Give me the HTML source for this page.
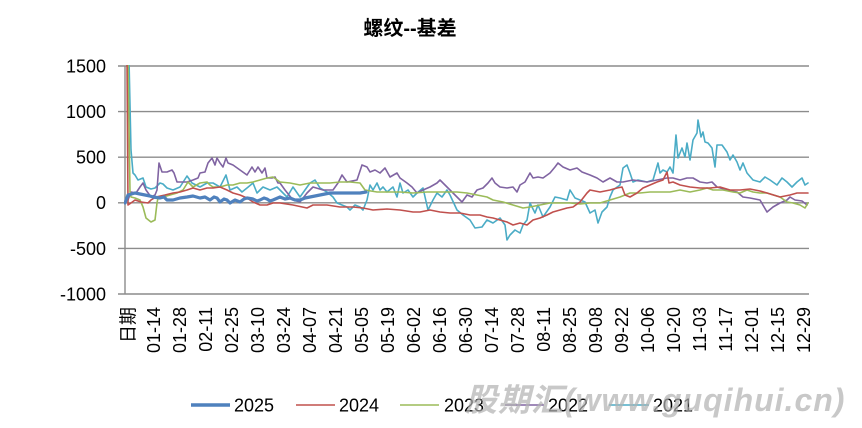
<!DOCTYPE html>
<html>
<head>
<meta charset="utf-8">
<style>
html,body{margin:0;padding:0;background:#fff;}
svg{display:block;}
text{font-family:"Liberation Sans","Noto Sans CJK SC",sans-serif;}
</style>
</head>
<body>
<svg width="862" height="428" viewBox="0 0 862 428" xmlns="http://www.w3.org/2000/svg">
<rect width="862" height="428" fill="#fff"/>
<defs>
<clipPath id="pc"><rect x="124" y="65" width="690" height="232"/></clipPath>
</defs>

<!-- title -->
<text x="410" y="35" font-size="20" font-weight="bold" text-anchor="middle" fill="#000">螺纹--基差</text>

<!-- gridlines -->
<g stroke="#8c8c8c" stroke-width="1.4">
<line x1="118" y1="66" x2="809" y2="66"/>
<line x1="118" y1="111.6" x2="809" y2="111.6"/>
<line x1="118" y1="157.2" x2="809" y2="157.2"/>
<line x1="118" y1="202.8" x2="809" y2="202.8"/>
<line x1="118" y1="248.4" x2="809" y2="248.4"/>
<line x1="118" y1="294" x2="809" y2="294"/>
<line x1="125" y1="66" x2="125" y2="294"/>
</g>

<!-- y labels -->
<g font-size="18" text-anchor="end" fill="#000">
<text x="106" y="72.4">1500</text>
<text x="106" y="118">1000</text>
<text x="106" y="163.6">500</text>
<text x="106" y="209.2">0</text>
<text x="106" y="254.8">-500</text>
<text x="106" y="300.4">-1000</text>
</g>

<!-- x labels -->
<g font-size="18" text-anchor="end" fill="#000">
<text transform="translate(134.3,307) rotate(-90)">日期</text>
<text transform="translate(159.9,307) rotate(-90)">01-14</text>
<text transform="translate(185.9,307) rotate(-90)">01-28</text>
<text transform="translate(211.9,307) rotate(-90)">02-11</text>
<text transform="translate(237.9,307) rotate(-90)">02-25</text>
<text transform="translate(263.9,307) rotate(-90)">03-10</text>
<text transform="translate(289.9,307) rotate(-90)">03-24</text>
<text transform="translate(315.9,307) rotate(-90)">04-07</text>
<text transform="translate(341.9,307) rotate(-90)">04-21</text>
<text transform="translate(367.9,307) rotate(-90)">05-05</text>
<text transform="translate(393.9,307) rotate(-90)">05-19</text>
<text transform="translate(419.9,307) rotate(-90)">06-02</text>
<text transform="translate(445.9,307) rotate(-90)">06-16</text>
<text transform="translate(471.9,307) rotate(-90)">06-30</text>
<text transform="translate(497.9,307) rotate(-90)">07-14</text>
<text transform="translate(523.9,307) rotate(-90)">07-28</text>
<text transform="translate(549.9,307) rotate(-90)">08-11</text>
<text transform="translate(575.9,307) rotate(-90)">08-25</text>
<text transform="translate(601.9,307) rotate(-90)">09-08</text>
<text transform="translate(627.9,307) rotate(-90)">09-22</text>
<text transform="translate(653.9,307) rotate(-90)">10-06</text>
<text transform="translate(679.9,307) rotate(-90)">10-20</text>
<text transform="translate(705.9,307) rotate(-90)">11-03</text>
<text transform="translate(731.9,307) rotate(-90)">11-17</text>
<text transform="translate(757.9,307) rotate(-90)">12-01</text>
<text transform="translate(783.9,307) rotate(-90)">12-15</text>
<text transform="translate(809.9,307) rotate(-90)">12-29</text>
</g>

<g clip-path="url(#pc)" fill="none" stroke-linejoin="round" stroke-linecap="round">
<!-- 2021 cyan -->
<polyline stroke="#4BACC6" stroke-width="1.6" points="126,60 129,60 131,150 133,173 135,175 138,180 143,178 146,187 151,189 155,188 160,183 163,184 167,188 173,190 180,187 187,176 192,183 200,187 207,183 213,183 220,187 226,175 230,190 237,187 242,192 247,188 253,183 257,193 263,187 270,190 277,187 280,190 287,197 293,187 300,197 310,183 315,180 320,188 327,192 333,197 337,203 342,205 347,207 350,210 355,205 360,207 363,210 367,200 370,185 373,190 377,183 380,190 383,187 387,192 393,187 397,197 400,183 403,193 408,190 413,197 417,193 423,188 428,210 433,200 437,193 442,197 447,190 450,195 457,210 463,215 470,220 475,228 482,227 487,220 493,223 500,218 505,225 507,240 510,235 515,230 520,233 523,225 527,220 530,203 535,213 538,205 543,217 550,207 555,197 560,198 567,200 570,190 575,198 580,200 585,202 590,213 595,210 598,223 602,212 607,207 610,197 613,190 620,185 623,168 627,165 630,173 633,182 638,180 647,182 653,180 658,163 660,173 663,170 667,172 670,167 673,173 676,135 678,158 682,148 685,157 687,143 690,160 693,140 697,133 698,120 701,137 703,132 705,142 708,143 712,148 715,167 717,145 722,145 727,152 730,160 733,155 737,162 740,170 743,163 747,173 753,180 760,182 765,177 770,180 777,185 782,178 787,182 792,187 797,182 802,178 805,185 808,183"/>
<!-- 2022 purple -->
<polyline stroke="#8064A2" stroke-width="1.6" points="128,200 131,192 136,193 140,187 143,183 146,190 151,197 155,195 157,190 159,163 162,172 167,172 172,170 174,173 177,182 187,182 193,180 198,178 200,173 205,172 208,163 212,158 215,165 217,158 220,163 223,167 226,158 228,163 233,165 240,170 247,175 252,167 255,172 258,167 262,173 265,168 267,178 272,178 275,177 278,183 280,183 285,190 293,200 300,202 307,193 313,187 323,190 333,190 338,183 342,175 347,182 357,180 362,165 367,167 370,172 375,170 380,173 385,168 390,177 397,173 400,178 407,183 412,187 417,193 423,190 430,187 437,183 440,180 445,185 450,190 457,197 462,202 467,195 472,197 477,190 483,188 488,183 492,178 495,183 500,187 507,188 513,187 517,192 520,185 525,182 530,173 533,178 538,177 543,178 550,173 555,167 558,163 563,167 570,170 577,168 582,172 590,175 597,178 603,182 610,178 617,182 623,182 633,180 647,182 657,180 667,178 673,178 680,180 687,178 693,178 700,182 707,183 712,182 717,187 727,190 737,192 743,197 750,198 760,200 767,212 773,207 780,203 787,200 790,197 795,200 802,201 807,205"/>
<!-- 2023 green -->
<polyline stroke="#9BBB59" stroke-width="1.6" points="126,60 128,60 130,192 131,197 135,198 140,200 143,207 146,218 151,222 155,220 157,203 158,198 163,197 170,195 177,193 183,190 188,182 193,187 200,183 207,182 210,185 213,187 220,187 227,185 233,185 240,183 247,183 253,182 260,180 267,178 273,177 280,182 290,183 300,185 310,183 320,183 330,183 340,182 350,182 360,183 365,190 377,192 387,192 400,192 413,193 427,192 437,192 447,192 457,192 467,193 477,195 487,197 493,200 503,202 513,205 523,208 530,207 540,205 550,203 560,203 570,203 580,204 590,203 600,203 610,200 620,197 630,193 640,193 650,192 660,192 670,192 680,190 690,192 700,190 707,188 713,190 723,190 733,192 740,193 747,190 753,192 760,193 767,193 780,197 787,202 793,203 800,205 805,208 808,203"/>
<!-- 2024 red -->
<polyline stroke="#C0504D" stroke-width="1.6" points="126,60 127,60 128,205 131,203 135,200 141,202 148,203 151,200 156,197 165,195 173,193 180,192 187,190 193,188 200,190 207,188 213,188 220,187 227,190 233,193 240,195 247,198 253,202 260,205 267,205 273,203 280,203 293,205 307,208 313,205 327,205 340,207 353,207 363,208 373,210 387,209 400,210 413,212 420,212 430,210 440,212 450,213 460,213 470,215 480,215 487,217 493,218 500,220 507,222 513,225 520,223 527,225 533,220 540,218 547,215 553,212 560,210 567,208 573,207 580,202 587,193 590,190 600,192 610,190 617,188 622,187 625,195 630,197 637,193 643,188 650,185 657,182 663,180 667,172 669,183 673,182 680,185 690,187 700,188 710,188 720,187 730,190 740,190 750,189 760,191 767,193 780,197 790,195 797,193 808,193"/>
<!-- 2025 blue -->
<polyline stroke="#4F81BD" stroke-width="3.2" points="125,203 128,195 135,193 140,194 145,195 150,196 153,197 160,198 164,197 167,200 173,200 180,198 187,197 193,196 200,198 205,197 210,200 214,197 217,198 220,202 224,199 227,200 230,203 235,200 240,202 244,199 247,198 253,199 257,201 260,200 264,198 267,199 270,201 273,200 280,197 285,199 290,198 295,200 300,200 305,198 310,197 315,196 320,195 325,194 330,193 340,193 350,193 360,193 366,192"/>
</g>

<!-- legend -->
<g>
<line x1="191" y1="405" x2="230" y2="405" stroke="#4F81BD" stroke-width="3.5"/>
<line x1="296" y1="405" x2="335" y2="405" stroke="#C0504D" stroke-width="1.6"/>
<line x1="400" y1="405" x2="439" y2="405" stroke="#9BBB59" stroke-width="1.6"/>
<line x1="505" y1="405" x2="544" y2="405" stroke="#8064A2" stroke-width="1.6"/>
<line x1="609" y1="405" x2="649" y2="405" stroke="#4BACC6" stroke-width="1.6"/>
<g font-size="18" fill="#000">
<text x="234" y="411.4">2025</text>
<text x="339" y="411.4">2024</text>
<text x="444" y="411.4">2023</text>
<text x="548" y="411.4">2022</text>
<text x="653" y="411.4">2021</text>
</g>
</g>

<!-- watermark -->
<text x="465" y="411" font-size="32" font-weight="bold" font-style="italic" letter-spacing="1" fill="#b0b0b0" fill-opacity="0.7">股期汇(www.guqihui.cn)</text>
</svg>
</body>
</html>
